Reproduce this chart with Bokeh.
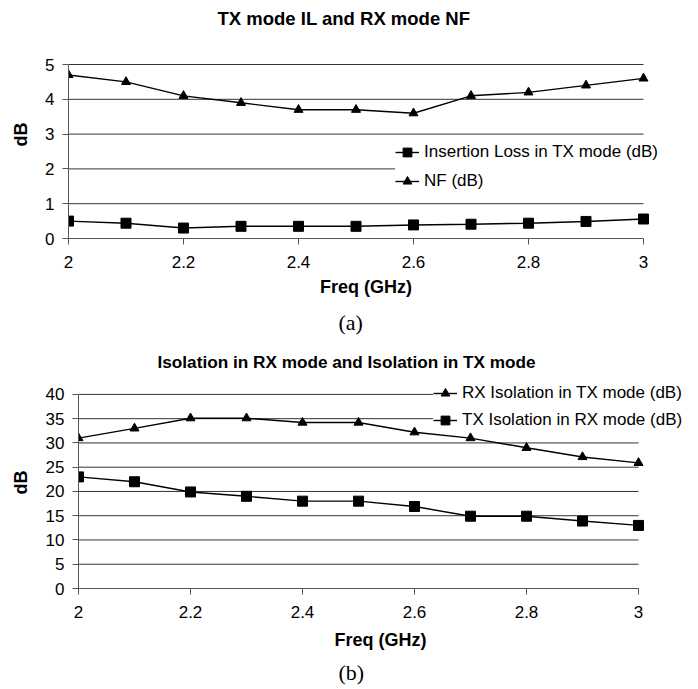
from bokeh.plotting import figure
from bokeh.models import Range1d, FixedTicker, Title
from bokeh.embed import file_html
from bokeh.resources import INLINE

# ---- data ----
freq = [2.0, 2.1, 2.2, 2.3, 2.4, 2.5, 2.6, 2.7, 2.8, 2.9, 3.0]
il_tx = [0.50, 0.44, 0.30, 0.35, 0.35, 0.35, 0.39, 0.41, 0.44, 0.49, 0.56]
nf_rx = [4.7, 4.5, 4.1, 3.9, 3.7, 3.7, 3.6, 4.1, 4.2, 4.4, 4.6]
rx_iso = [31.0, 33.0, 35.1, 35.1, 34.2, 34.2, 32.2, 31.0, 29.0, 27.1, 25.9]
tx_iso = [23.0, 22.0, 19.9, 19.0, 18.0, 18.0, 16.9, 14.9, 14.9, 13.9, 13.0]

x_ticks = [2.0, 2.2, 2.4, 2.6, 2.8, 3.0]
x_tick_labels = ["2", "2.2", "2.4", "2.6", "2.8", "3"]
y_ticks_a = [0, 1, 2, 3, 4, 5]
y_ticks_b = [0, 5, 10, 15, 20, 25, 30, 35, 40]

title_a = "TX mode IL and RX mode NF"
title_b = "Isolation in RX mode and Isolation in TX mode"
label_il = "Insertion Loss in TX mode (dB)"
label_nf = "NF (dB)"
label_rx = "RX Isolation in TX mode (dB)"
label_tx = "TX Isolation in RX mode (dB)"

SANS = "Liberation Sans"
SERIF = "Liberation Serif"
GRID = "#333333"
AXIS = "#555555"


def make_fig(ttl, title_size, yticks, width, height, frame_w, frame_h, ext_right, ext_top,
             bl, bt, title_standoff, title_offset, ylab_standoff, xlab_standoff):
    ymax = yticks[-1]
    x0, x1 = freq[0], freq[-1]
    # extra room (px) right / top of the data area so that legend and title fit
    x_end = x1 + ext_right * (x1 - x0) / frame_w
    y_end = ymax + ext_top * (ymax - yticks[0]) / frame_h
    fw_total = frame_w + ext_right
    fh_total = frame_h + ext_top
    p = figure(
        width=width, height=height,
        min_border_left=bl, min_border_right=width - bl - fw_total,
        min_border_top=bt, min_border_bottom=height - bt - fh_total,
        x_range=Range1d(x0, x_end), y_range=Range1d(yticks[0], y_end),
        output_backend="svg", toolbar_location=None,
        background_fill_color="white", border_fill_color="white",
        outline_line_color=None,
    )
    p.title = Title(text=ttl, align="left", text_font=SANS, text_font_style="bold",
                    text_font_size=title_size, text_color="black",
                    standoff=title_standoff, offset=title_offset)
    p.xaxis.ticker = FixedTicker(ticks=x_ticks)
    p.xaxis.major_label_overrides = {t: s for t, s in zip(x_ticks, x_tick_labels)}
    p.xaxis.bounds = (x0, x1)
    p.yaxis.ticker = FixedTicker(ticks=yticks)
    p.yaxis.bounds = (yticks[0], ymax)
    for ax in (p.xaxis, p.yaxis):
        ax.axis_line_color = AXIS
        ax.major_tick_line_color = AXIS
        ax.minor_tick_line_color = None
        ax.major_tick_in = 0
        ax.major_tick_out = 6
        ax.major_label_text_font = SANS
        ax.major_label_text_font_size = "17px"
        ax.major_label_text_color = "black"
        ax.axis_label_text_font = SANS
        ax.axis_label_text_font_style = "bold"
        ax.axis_label_text_font_size = "18px"
        ax.axis_label_text_color = "black"
    p.xaxis.major_label_standoff = 11
    p.xaxis.axis_label = "Freq (GHz)"
    p.xaxis.axis_label_standoff = xlab_standoff
    p.yaxis.major_label_standoff = 8
    p.yaxis.axis_label = "dB"
    p.yaxis.axis_label_standoff = ylab_standoff
    p.xgrid.visible = False
    p.ygrid.visible = False
    # horizontal grid lines limited to the data span
    p.segment(x0=[x0] * len(yticks), x1=[x1] * len(yticks), y0=yticks, y1=yticks,
              line_color=GRID, line_width=1)
    return p


def style_legend(lg, loc, padding, spacing):
    lg.location = loc
    lg.border_line_color = None
    lg.background_fill_color = "white"
    lg.background_fill_alpha = 1.0
    lg.padding = padding
    lg.margin = 0
    lg.spacing = spacing
    lg.label_height = 22
    lg.glyph_height = 22
    lg.glyph_width = 24
    lg.label_standoff = 5
    lg.label_text_font = SANS
    lg.label_text_font_size = "17px"
    lg.label_text_color = "black"


# ---- chart (a) ----
pa = make_fig(title_a, "18.5px", y_ticks_a, 690, 344, 575, 174, 20, 34, 68, 30, 4, 149, 11, 6)
pa.line(freq, il_tx, line_color="black", line_width=1.4, legend_label=label_il)
pa.scatter(freq, il_tx, marker="square", size=10, color="black", legend_label=label_il)
pa.line(freq, nf_rx, line_color="black", line_width=1.4, legend_label=label_nf)
pa.scatter(freq, nf_rx, marker="triangle", size=9, color="black", legend_label=label_nf)
pa.add_layout(Title(text="(a)", align="left", text_font=SERIF, text_font_style="normal",
                    text_font_size="22px", text_color="black", standoff=17, offset=270), "below")
style_legend(pa.legend[0], (327, 46), 4, 7)

# ---- chart (b) ----
pb = make_fig(title_b, "17.2px", y_ticks_b, 690, 345, 560, 195, 44, 18, 78, 32, 10, 79, 12, 9)
pb.line(freq, rx_iso, line_color="black", line_width=1.4, legend_label=label_rx)
pb.scatter(freq, rx_iso, marker="triangle", size=9, color="black", legend_label=label_rx)
pb.line(freq, tx_iso, line_color="black", line_width=1.4, legend_label=label_tx)
pb.scatter(freq, tx_iso, marker="square", size=10, color="black", legend_label=label_tx)
pb.add_layout(Title(text="(b)", align="left", text_font=SERIF, text_font_style="normal",
                    text_font_size="22px", text_color="black", standoff=10, offset=260), "below")
style_legend(pb.legend[0], (355, 157), 3, 5)

open("out.html", "w").write(file_html([pa, pb], INLINE))
